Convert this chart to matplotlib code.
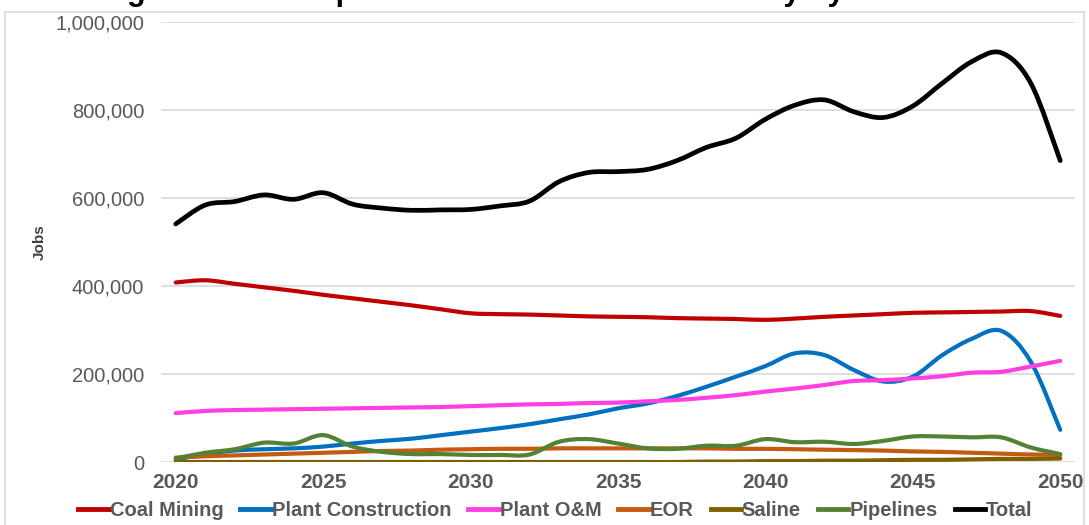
import numpy as np
import matplotlib
matplotlib.use('Agg')
import matplotlib.pyplot as plt
from matplotlib.path import Path
from matplotlib.patches import PathPatch, Rectangle
from matplotlib.lines import Line2D
from matplotlib.ticker import FuncFormatter

plt.rcParams['font.family'] = ['Liberation Sans', 'DejaVu Sans']

years = list(range(2020, 2051))

# values in thousands of jobs
coal_mining = [408, 413, 405, 397, 389, 380, 372, 364, 356, 347, 338, 336, 335, 333, 331,
               330, 329, 327, 326, 325, 323, 326, 330, 333, 336, 339, 340, 341, 342, 343, 332]
plant_construction = [5, 18, 26, 29, 31, 35, 42, 48, 53, 61, 69, 77, 86, 97, 108,
                      122, 133, 150, 171, 194, 218, 247, 243, 209, 183, 194, 243, 280, 298, 228, 73]
plant_om = [111, 116, 118, 119, 120, 121, 122, 123, 124, 125, 127, 129, 131, 132, 134,
            135, 138, 141, 146, 152, 160, 167, 175, 184, 186, 190, 195, 203, 205, 217, 230]
eor = [10, 13, 15, 17, 19, 21, 23, 25, 26, 28, 29, 30, 30, 31, 31,
       31, 31, 31, 31, 30, 30, 29, 28, 27, 26, 24, 23, 21, 19, 17, 16]
saline = [0, 0, 0, 0, 0, 0, 0, 0, 0, 0, 0, 0, 0, 0, 0,
          0, 0, 0, 1, 1, 2, 2, 3, 3, 4, 5, 5, 6, 7, 7, 8]
pipelines = [8, 21, 29, 44, 42, 61, 35, 23, 18, 18, 16, 16, 17, 46, 52,
             42, 31, 30, 37, 37, 52, 45, 46, 41, 48, 58, 58, 56, 56, 33, 18]
total = [541, 584, 592, 607, 597, 612, 586, 577, 572, 573, 574, 582, 593, 637, 658,
         660, 665, 685, 715, 736, 779, 811, 823, 796, 783, 809, 861, 910, 930, 861, 685]

series = [
    ('Coal Mining', coal_mining, '#C00000'),
    ('Plant Construction', plant_construction, '#0070C0'),
    ('Plant O&M', plant_om, '#FF3FE3'),
    ('EOR', eor, '#C55A11'),
    ('Saline', saline, '#7F6000'),
    ('Pipelines', pipelines, '#548235'),
    ('Total', total, '#000000'),
]


def smooth_path(x, y):
    # Catmull-Rom through the points, drawn as cubic Bezier segments
    pts = np.column_stack([x, y]).astype(float)
    n = len(pts)
    verts = [pts[0]]
    codes = [Path.MOVETO]
    for i in range(n - 1):
        p0 = pts[max(i - 1, 0)]
        p1 = pts[i]
        p2 = pts[i + 1]
        p3 = pts[min(i + 2, n - 1)]
        c1 = p1 + (p2 - p0) / 6.0
        c2 = p2 - (p3 - p1) / 6.0
        verts += [c1, c2, p2]
        codes += [Path.CURVE4] * 3
    return Path(verts, codes)


fig = plt.figure(figsize=(10.89, 5.25), dpi=100)
ax = fig.add_axes([161 / 1089, 63 / 525, (1075 - 161) / 1089, 440 / 525])

handles = []
for name, vals, col in series:
    v = np.array(vals) * 1000
    lw = 3.4 if name == 'Total' else 3.0
    ax.add_patch(PathPatch(smooth_path(years, v), facecolor='none', edgecolor=col,
                           lw=lw, capstyle='round', joinstyle='round'))
    handles.append(Line2D([], [], color=col, lw=3.5))

ax.set_xlim(2019.5, 2050.5)
ax.set_ylim(0, 1000000)
ax.set_xticks(range(2020, 2051, 5))
ax.set_yticks(range(0, 1000001, 200000))
ax.yaxis.set_major_formatter(FuncFormatter(lambda v, p: f'{int(v):,}'))
ax.grid(axis='y', color='#D9D9D9', lw=1.2)
ax.set_axisbelow(True)
for s in ax.spines.values():
    s.set_visible(False)
ax.tick_params(axis='both', length=0, colors='#595959')
ax.tick_params(axis='y', labelsize=14.5, pad=12)
ax.tick_params(axis='x', labelsize=15, pad=8)
for lab in ax.get_xticklabels():
    lab.set_fontweight('bold')
ax.set_ylabel('Jobs', fontsize=11, fontweight='bold', color='#404040', labelpad=6)

leg = fig.legend(handles, [s[0] for s in series], loc='center', bbox_to_anchor=(0.51, 1 - 511 / 525),
                 ncol=7, frameon=False, handlelength=1.5, handletextpad=0.05, columnspacing=0.85,
                 prop={'size': 14.5, 'weight': 'bold'})
for t in leg.get_texts():
    t.set_color('#595959')

# chart area border
fig.patches.append(Rectangle((5 / 1089, -0.05), 1079 / 1089, 1.05 - 12 / 525, transform=fig.transFigure,
                             fill=False, edgecolor='#D9D9D9', lw=1.2))

# title, mostly cut off at the top of the picture (as in the reference)
fig.text(0.497, 1.0, 'Figure 10: Example Jobs Created in the Industry by Scenario',
         ha='center', va='baseline', fontsize=22, fontweight='bold', color='black')

fig.savefig('out.png', dpi=100)
